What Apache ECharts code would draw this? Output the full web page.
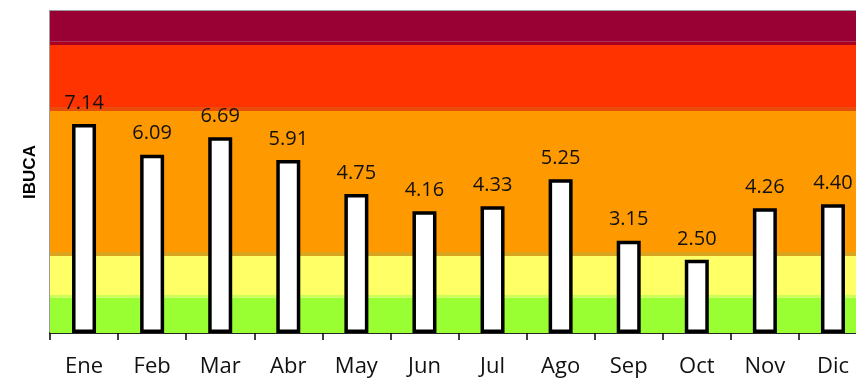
<!DOCTYPE html>
<html>
<head>
<meta charset="utf-8">
<style>
  html, body { margin: 0; padding: 0; background: #ffffff; }
  #chart { width: 856px; height: 378px; }
</style>
<script src="https://cdn.jsdelivr.net/npm/echarts@6/dist/echarts.min.js"></script>
</head>
<body>
<div id="chart"></div>
<script>
// Monthly IBUCA index
const months = ['Ene', 'Feb', 'Mar', 'Abr', 'May', 'Jun', 'Jul', 'Ago', 'Sep', 'Oct', 'Nov', 'Dic'];
const ibuca = [7.14, 6.09, 6.69, 5.91, 4.75, 4.16, 4.33, 5.25, 3.15, 2.50, 4.26, 4.40];

// Quality bands (lower and upper index value), bottom to top
const bandLimits = [
  [0, 1.2],
  [1.2, 1.3],
  [1.3, 2.63],
  [2.63, 2.77],
  [2.77, 7.58],
  [7.58, 7.72],
  [7.72, 9.84],
  [9.84, 9.95],
  [9.95, 11]
];
const bandColors = [
  '#99FF33', '#CCFF55', '#FFFF66', '#D9A51E', '#FF9900',
  '#E84D0A', '#FF3300', '#A8001E', '#990033'
];
const axisMax = 11;

const chart = echarts.init(document.getElementById('chart'), null, { renderer: 'canvas' });

// The plot area runs slightly past the right edge of the canvas
chart.setOption({
  animation: false,
  grid: {
    left: 50, top: 11, width: 817, height: 322,
    outerBoundsMode: 'none',
    containLabel: false,
    show: true, borderColor: '#9a9a9a', borderWidth: 2, backgroundColor: 'transparent'
  },
  xAxis: {
    type: 'category',
    data: months,
    boundaryGap: true,
    axisLine: { lineStyle: { color: '#000', width: 1.5 } },
    axisTick: { show: true, length: 7, lineStyle: { color: '#000', width: 1.5 } },
    axisLabel: { color: '#111', fontSize: 22, fontFamily: 'Open Sans', margin: 23 }
  },
  yAxis: {
    type: 'value',
    min: 0, max: axisMax,
    name: 'IBUCA',
    nameLocation: 'middle',
    nameGap: 11,
    nameTextStyle: { color: '#000', fontSize: 17, fontWeight: 'bold', fontFamily: 'Liberation Sans' },
    axisLine: { show: true, lineStyle: { color: '#9a9a9a', width: 2 } },
    axisTick: { show: false },
    axisLabel: { show: false },
    splitLine: { show: false }
  },
  series: [
    {
      type: 'line',
      data: [],
      z: 0,
      silent: true,
      markArea: {
        silent: true,
        data: bandLimits.map((b, i) => [
          { yAxis: b[0], itemStyle: { color: bandColors[i], opacity: 1 } },
          { yAxis: b[1] }
        ])
      }
    },
    {
      type: 'bar',
      data: ibuca,
      z: 3,
      barWidth: 24,
      itemStyle: { color: '#ffffff', borderColor: '#000000', borderWidth: 3.5 },
      label: {
        show: true,
        position: 'top',
        distance: 11,
        formatter: p => p.value.toFixed(2),
        color: '#111',
        fontSize: 20,
        fontFamily: 'Open Sans'
      }
    }
  ]
});
</script>
</body>
</html>
